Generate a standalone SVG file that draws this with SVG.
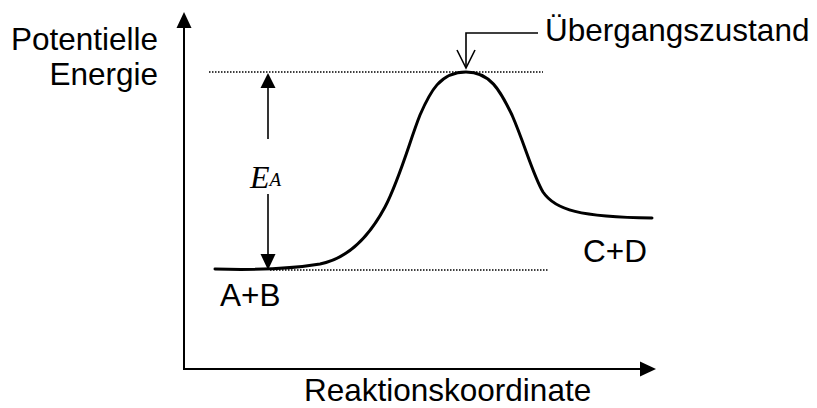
<svg xmlns="http://www.w3.org/2000/svg" width="817" height="408" viewBox="0 0 817 408">
<style>
.t{font-family:"Liberation Sans",Arial,sans-serif;font-size:31.5px;fill:#000}
.ax{stroke:#000;stroke-width:2;fill:none}
.dot{stroke:#000;stroke-width:1.5;stroke-dasharray:1.5 1.5;fill:none}
.ln{stroke:#000;stroke-width:1.6;fill:none}
.cv{stroke:#000;stroke-width:3;fill:none;stroke-linecap:round}
</style>
<rect width="817" height="408" fill="#fff"/>
<g id="axes">
<line class="ax" x1="184" y1="369" x2="184" y2="26"/>
<polygon points="184,12 176.5,28 191.5,28" fill="#000"/>
<line class="ax" x1="183" y1="369" x2="642" y2="369"/>
<polygon points="656,369 640,361.5 640,376.5" fill="#000"/>
</g>
<g id="guides">
<line class="dot" x1="209" y1="72" x2="543" y2="72"/>
<line class="dot" x1="270" y1="270" x2="549" y2="270"/>
</g>
<g id="curve">
<path class="cv" d="M215,269 C250,270 290,269 320,264 C350,258 370,235 385,207 C400,178 410,140 420,115 C430,92 440,72 466,72 C490,72 500,90 512,115 C525,145 533,175 543,192 C555,210 580,217 652,218"/>
</g>
<g id="connectors">
<g id="ea-arrow">
<line class="ln" x1="268" y1="86" x2="268" y2="139"/>
<polygon points="268,73 260.5,88 275.5,88" fill="#000"/>
<line class="ln" x1="268" y1="194" x2="268" y2="256"/>
<polygon points="268,270 260.5,254 275.5,254" fill="#000"/>
</g>
<g id="ts-arrow">
<polyline class="ln" points="538,33 466,33 466,67"/>
<polyline class="ln" points="457,50 466,68 475,50"/>
</g>
</g>
<g id="label-ea">
<text x="250" y="188" style="font-family:'Liberation Serif','Times New Roman',serif;font-style:italic;font-size:32px">E<tspan dy="-2" font-size="19">A</tspan></text>
</g>
<g id="label-y"><text class="t" x="158" y="50" text-anchor="end">Potentielle</text><text class="t" x="158" y="85" text-anchor="end">Energie</text></g>
<g id="label-ts"><text class="t" x="545" y="41">Übergangszustand</text></g>
<g id="label-ab"><text class="t" x="220" y="306">A+B</text></g>
<g id="label-cd"><text class="t" x="583" y="262">C+D</text></g>
<g id="label-x"><text class="t" x="304" y="401">Reaktionskoordinate</text></g>
</svg>
